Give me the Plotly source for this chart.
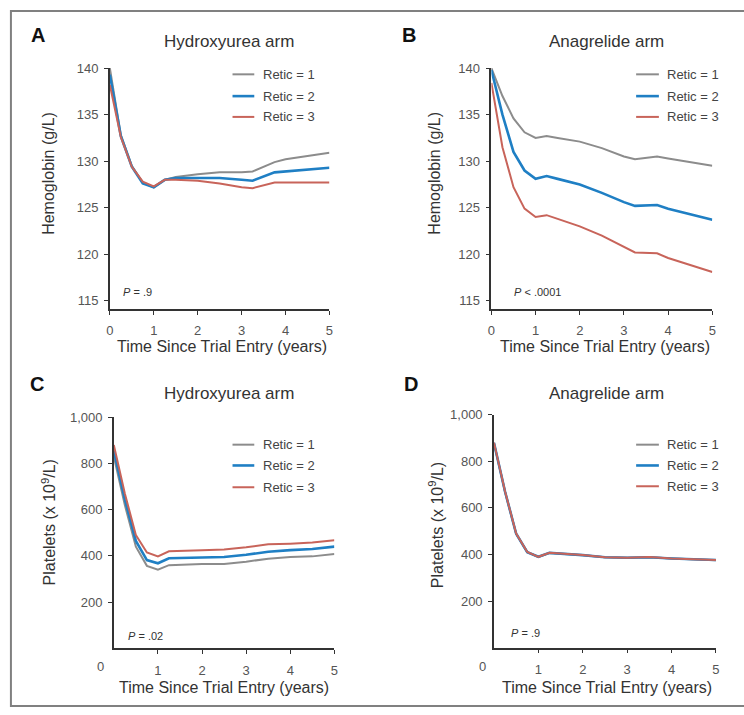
import plotly.graph_objects as go

W, H = 744, 715

# ---------------- data ----------------
series_names = ["Retic = 1", "Retic = 2", "Retic = 3"]
series_colors = ["#8c8c8c", "#1f7fc4", "#c8645a"]
series_widths = [2.0, 2.6, 2.0]

hb_years = [0, 0.25, 0.5, 0.75, 1, 1.25, 1.5, 2, 2.5, 3, 3.25, 3.75, 4, 5]
hb_hydroxyurea_r1 = [140.0, 132.8, 129.5, 127.7, 127.2, 128.0, 128.3, 128.6, 128.8, 128.8, 128.9, 129.9, 130.2, 130.9]
hb_hydroxyurea_r2 = [139.3, 132.7, 129.4, 127.6, 127.2, 128.0, 128.2, 128.2, 128.2, 128.0, 127.9, 128.8, 128.9, 129.3]
hb_hydroxyurea_r3 = [138.2, 132.6, 129.4, 127.8, 127.3, 128.0, 128.0, 127.9, 127.6, 127.2, 127.1, 127.7, 127.7, 127.7]

hb_anagrelide_r1 = [140.0, 137.0, 134.6, 133.1, 132.5, 132.7, 132.5, 132.1, 131.4, 130.5, 130.2, 130.5, 130.3, 129.5]
hb_anagrelide_r2 = [139.8, 135.0, 131.0, 129.0, 128.1, 128.4, 128.1, 127.5, 126.6, 125.6, 125.2, 125.3, 124.9, 123.7]
hb_anagrelide_r3 = [138.4, 131.5, 127.2, 124.9, 124.0, 124.2, 123.8, 123.0, 122.0, 120.8, 120.2, 120.1, 119.6, 118.1]

plt_years = [0, 0.25, 0.5, 0.75, 1, 1.25, 2, 2.5, 3, 3.5, 4, 4.5, 5]
plt_hydroxyurea_r1 = [830, 620, 440, 357, 340, 360, 365, 365, 375, 388, 395, 398, 408]
plt_hydroxyurea_r2 = [855, 645, 465, 382, 368, 390, 393, 395, 405, 418, 425, 430, 440]
plt_hydroxyurea_r3 = [880, 670, 490, 415, 398, 420, 425, 428, 437, 450, 453, 458, 468]

plt_anagrelide_r1 = [878, 668, 488, 410, 389, 406, 397, 388, 386, 388, 383, 378, 375]
plt_anagrelide_r2 = [879, 669, 489, 410, 390, 407, 397, 388, 386, 388, 383, 378, 376]
plt_anagrelide_r3 = [880, 670, 490, 411, 390, 407, 398, 388, 386, 389, 383, 378, 376]

hb_ticks = [115, 120, 125, 130, 135, 140]
plt_ticks = [200, 400, 600, 800, 1000]
plt_ticktext = ["200", "400", "600", "800", "1,000"]
year_ticks_hb = [0, 1, 2, 3, 4, 5]
year_ticks_plt = [1, 2, 3, 4, 5]

panel_letters = ["A", "B", "C", "D"]
panel_titles = ["Hydroxyurea arm", "Anagrelide arm", "Hydroxyurea arm", "Anagrelide arm"]
p_values = ["<i>P</i> = .9", "<i>P</i> < .0001", "<i>P</i> = .02", "<i>P</i> = .9"]
x_title = "Time Since Trial Entry (years)"
y_titles = ["Hemoglobin (g/L)", "Hemoglobin (g/L)", "Platelets (x 10<sup>9</sup>/L)", "Platelets (x 10<sup>9</sup>/L)"]

# ---------------- layout helpers (page pixel -> paper) ----------------
def px(x):
    return x / W

def py(y):
    return 1 - y / H

FONT = "Liberation Sans, Arial, sans-serif"

panels = [
    dict(x=hb_years, ys=[hb_hydroxyurea_r1, hb_hydroxyurea_r2, hb_hydroxyurea_r3],
         xdom=(107, 329), ydom=(305, 61.7), yr=(114.12, 140), ytv=hb_ticks, ytt=None, xtv=year_ticks_hb),
    dict(x=hb_years, ys=[hb_anagrelide_r1, hb_anagrelide_r2, hb_anagrelide_r3],
         xdom=(492.7, 716), ydom=(305, 61.7), yr=(114.12, 140), ytv=hb_ticks, ytt=None, xtv=year_ticks_hb),
    dict(x=plt_years, ys=[plt_hydroxyurea_r1, plt_hydroxyurea_r2, plt_hydroxyurea_r3],
         xdom=(111, 334), ydom=(647.7, 414.3), yr=(0, 1000), ytv=plt_ticks, ytt=plt_ticktext, xtv=year_ticks_plt),
    dict(x=plt_years, ys=[plt_anagrelide_r1, plt_anagrelide_r2, plt_anagrelide_r3],
         xdom=(495.3, 719.7), ydom=(647, 411.7), yr=(0, 1000), ytv=plt_ticks, ytt=plt_ticktext, xtv=year_ticks_plt),
]

fig = go.Figure()
layout = dict(
    width=W, height=H,
    margin=dict(l=0, r=0, t=0, b=0),
    paper_bgcolor="white", plot_bgcolor="white",
    showlegend=False,
    font=dict(family=FONT, color="#333"),
)

for i, p in enumerate(panels):
    n = "" if i == 0 else str(i + 1)
    for j in range(3):
        fig.add_trace(go.Scatter(
            x=p["x"], y=p["ys"][j], mode="lines", name=series_names[j],
            line=dict(color=series_colors[j], width=series_widths[j]),
            xaxis="x" + n, yaxis="y" + n,
        ))
    axis_common = dict(showline=True, linecolor="#333", linewidth=1.5, ticks="outside",
                       ticklen=4, tickcolor="#333", tickwidth=1.2, showgrid=False, zeroline=False,
                       tickfont=dict(family=FONT, size=13, color="#555"), fixedrange=True)
    layout["xaxis" + n] = dict(axis_common, domain=[px(p["xdom"][0]), px(p["xdom"][1])],
                               range=[0, 5], tickvals=p["xtv"], anchor="y" + n,
                               ticklabelstandoff=5)
    ydict = dict(axis_common, domain=[py(p["ydom"][0]), py(p["ydom"][1])],
                 range=list(p["yr"]), tickvals=p["ytv"], anchor="x" + n, ticklabelstandoff=3)
    if p["ytt"]:
        ydict["ticktext"] = p["ytt"]
    layout["yaxis" + n] = ydict

# ---------------- text ----------------
ann = []
letter_pos = [(34, 28), (409, 28), (33, 381), (411, 381)]
title_pos = [(227, 35), (609, 35), (227, 390), (609, 390)]
ytitle_pos = [(45, 168), (435, 168), (45, 521), (437, 523)]
xtitle_pos = [(220, 343), (608, 343), (222, 687), (610, 687)]
p_pos = [(118, 288), (514, 288), (123, 635), (510, 632)]
legend_rows = [(68, 90, 111), (68, 90, 111), (442, 463, 485), (442, 463, 484)]
legend_x = [(231, 253, 260), (639, 662, 668), (231, 253, 260), (639, 662, 668)]

shapes = []
for i in range(4):
    ann.append(dict(text="<b>%s</b>" % panel_letters[i], x=px(letter_pos[i][0]), y=py(letter_pos[i][1]),
                    xref="paper", yref="paper", showarrow=False, xanchor="center", yanchor="middle",
                    font=dict(size=20, color="#111", family=FONT)))
    ann.append(dict(text=panel_titles[i], x=px(title_pos[i][0]), y=py(title_pos[i][1]),
                    xref="paper", yref="paper", showarrow=False, xanchor="center", yanchor="middle",
                    font=dict(size=17, color="#333", family=FONT)))
    ann.append(dict(text=y_titles[i], x=px(ytitle_pos[i][0]), y=py(ytitle_pos[i][1]), textangle=-90,
                    xref="paper", yref="paper", showarrow=False, xanchor="center", yanchor="middle",
                    font=dict(size=16, color="#333", family=FONT)))
    ann.append(dict(text=x_title, x=px(xtitle_pos[i][0]), y=py(xtitle_pos[i][1]),
                    xref="paper", yref="paper", showarrow=False, xanchor="center", yanchor="middle",
                    font=dict(size=16, color="#333", family=FONT)))
    ann.append(dict(text=p_values[i], x=px(p_pos[i][0]), y=py(p_pos[i][1]),
                    xref="paper", yref="paper", showarrow=False, xanchor="left", yanchor="middle",
                    font=dict(size=11, color="#333", family=FONT)))
    lx0, lx1, tx = legend_x[i]
    for j in range(3):
        yy = py(legend_rows[i][j])
        shapes.append(dict(type="line", xref="paper", yref="paper", x0=px(lx0), x1=px(lx1), y0=yy, y1=yy,
                           line=dict(color=series_colors[j], width=series_widths[j])))
        ann.append(dict(text=series_names[j], x=px(tx), y=yy, xref="paper", yref="paper",
                        showarrow=False, xanchor="left", yanchor="middle",
                        font=dict(size=13, color="#444", family=FONT)))

# corner "0" labels for platelet panels
for (cx, cy) in [(98, 666), (484, 666)]:
    ann.append(dict(text="0", x=px(cx), y=py(cy), xref="paper", yref="paper", showarrow=False,
                    xanchor="center", yanchor="middle", font=dict(size=13, color="#555", family=FONT)))

# outer frame (open on the right, as in the reference)
shapes.append(dict(type="rect", xref="paper", yref="paper", x0=px(7), x1=px(760), y0=py(706), y1=py(4),
                   line=dict(color="#808080", width=2)))

layout["annotations"] = ann
layout["shapes"] = shapes
fig.update_layout(**layout)
fig.write_html(
    "out.html",
    config={"displayModeBar": False},
    post_script="document.body.style.margin='0';document.body.style.overflow='hidden';",
)
